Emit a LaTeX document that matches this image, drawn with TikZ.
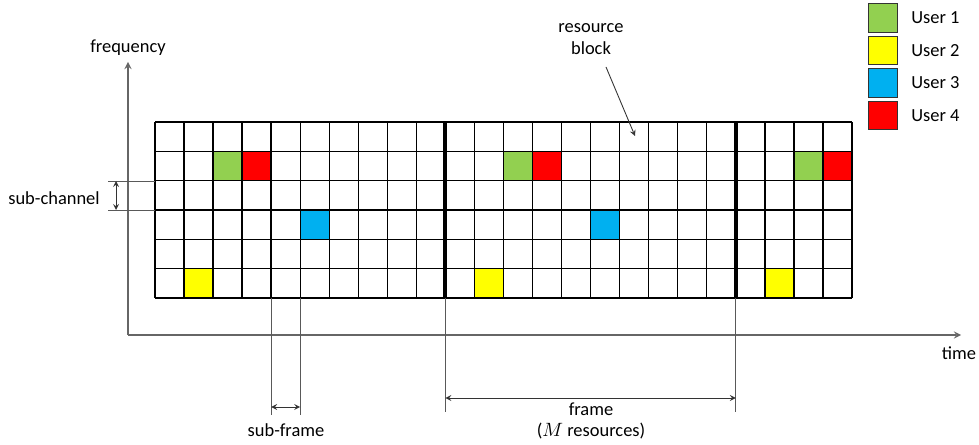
\documentclass[tikz,border=0pt]{standalone}
\usepackage{fontspec}
\setmainfont{Carlito}
\usetikzlibrary{arrows, positioning}

\definecolor{usergreen}{RGB}{146,208,80}
\definecolor{useryellow}{RGB}{255,255,0}
\definecolor{userblue}{RGB}{0,176,240}
\definecolor{userred}{RGB}{255,0,0}

\begin{document}
\begin{tikzpicture}[> = stealth, % arrow head style
                x = 0.02cm, y = -0.02cm, % one unit = one pixel
                font = \fontsize{10.5}{12.5}\selectfont,
                node distance = 2mm
            ]

            \tikzstyle{gridline}=[draw = black, line width = 0.8pt]
            \tikzstyle{framebar}=[draw = black, line width = 2.3pt]
            \tikzstyle{axis}=[draw = black!60, line width = 0.8pt, ->]
            \tikzstyle{guide}=[draw = black!65, line width = 0.5pt]
            \tikzstyle{span}=[draw = black!80, line width = 0.5pt, <->]
            \tikzstyle{legbox}=[draw = black!80, line width = 0.8pt,
            minimum width = 0.58cm, minimum height = 0.57cm, inner sep = 0pt]
            \tikzstyle{label}=[inner sep = 1pt, align = center]

            \useasboundingbox (0,0) rectangle (979,445);

            % resource grid: 24 sub-frames x 6 sub-channels
            \foreach \c/\r/\col in {2/1/usergreen, 3/1/userred, 5/3/userblue,
                1/5/useryellow, 12/1/usergreen, 13/1/userred, 15/3/userblue,
                11/5/useryellow, 22/1/usergreen, 23/1/userred, 21/5/useryellow}
            \fill[\col] ({155+\c*29.04},{122+\r*29.33}) rectangle ++(29.04,29.33);
            \foreach \r in {0,...,6}
            \draw[gridline] (155,{122+\r*29.33}) -- (852,{122+\r*29.33});
            \foreach \c in {0,...,24}
            \draw[gridline] ({155+\c*29.04},122) -- ({155+\c*29.04},298);
            \draw[framebar] (445.4,122) -- (445.4,298);
            \draw[framebar] (735.8,122) -- (735.8,298);

            % axes
            \coordinate (O) at (128,335); \coordinate (fend) at (128,62);
            \coordinate (tend) at (961,335);
            \draw[axis] (O) -- (fend); \draw[axis] (O) -- (tend);
            \node[label] (freq) at (128,48) {frequency};
            \node[label] (time) at (959,353) {time};

            % sub-channel
            \coordinate (sc1) at (108,181); \coordinate (sc1e) at (155,181);
            \coordinate (sc2) at (108,210); \coordinate (sc2e) at (155,210);
            \coordinate (sca) at (116,181); \coordinate (scb) at (116,210);
            \draw[guide] (sc1) -- (sc1e); \draw[guide] (sc2) -- (sc2e);
            \draw[span] (sca) -- (scb);
            \node[label] (subch) at (54,198) {sub-channel};

            % sub-frame
            \coordinate (sf1) at (271.2,298); \coordinate (sf1e) at (271.2,415);
            \coordinate (sf2) at (300.2,298); \coordinate (sf2e) at (300.2,415);
            \coordinate (sfa) at (271.2,407); \coordinate (sfb) at (300.2,407);
            \draw[guide] (sf1) -- (sf1e); \draw[guide] (sf2) -- (sf2e);
            \draw[span] (sfa) -- (sfb);
            \node[label] (subfr) at (286,430) {sub-frame};

            % frame
            \coordinate (fr1) at (445.4,298); \coordinate (fr1e) at (445.4,412);
            \coordinate (fr2) at (735.8,298); \coordinate (fr2e) at (735.8,412);
            \coordinate (fra) at (445.4,398); \coordinate (frb) at (735.8,398);
            \draw[guide] (fr1) -- (fr1e); \draw[guide] (fr2) -- (fr2e);
            \draw[span] (fra) -- (frb);
            \node[label] (frame) at (591,409) {frame};
            \node[label] (mres) at (591,431) {($M$ resources)};

            % resource block
            \node[label] (rb) at (591,39) {resource\\block};
            \coordinate (rbtail) at (606,67); \coordinate (rbhead) at (635,136);
            \draw[draw = black!80, line width = 0.5pt, ->] (rbtail) -- (rbhead);

            % legend
            \node[legbox, fill = usergreen] (u1) at (883,18) {};
            \node[legbox, fill = useryellow] (u2) at (883,50.5) {};
            \node[legbox, fill = userblue] (u3) at (883,83) {};
            \node[legbox, fill = userred] (u4) at (883,115.5) {};
            \node[label, right = 2.2mm of u1] (l1) {User 1};
            \node[label, right = 2.2mm of u2] (l2) {User 2};
            \node[label, right = 2.2mm of u3] (l3) {User 3};
            \node[label, right = 2.2mm of u4] (l4) {User 4};
\end{tikzpicture}
\end{document}
